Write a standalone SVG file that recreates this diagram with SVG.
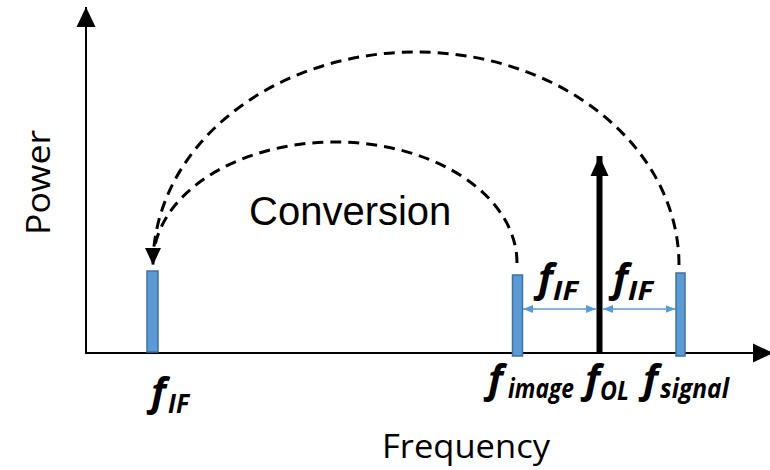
<svg xmlns="http://www.w3.org/2000/svg" width="770" height="470" viewBox="0 0 770 470">
  <style>
    .axis { stroke: #000; stroke-width: 2; fill: none; }
    .bar { fill: #5B9BD5; stroke: #41719C; stroke-width: 1.5; }
    .arc { stroke: #000; stroke-width: 3; fill: none; stroke-dasharray: 11 7; }
    .span { stroke: #5B9BD5; stroke-width: 1.5; fill: none; }
    .lo { stroke: #000; stroke-width: 6; fill: none; }
    .lbl { font-family: "Open Sans", "Noto Sans", sans-serif; font-weight: bold; font-style: italic; fill: #000; }
    .main { font-size: 40px; }
    .sub { font-size: 26px; }
    .title { font-family: "Open Sans", "Noto Sans", sans-serif; font-size: 33px; fill: #000; }
    .conv { font-family: "Liberation Sans", Arial, sans-serif; font-size: 40px; fill: #000; }
  </style>
  <defs>
    <marker id="axisHead" markerUnits="userSpaceOnUse" markerWidth="20" markerHeight="20" viewBox="0 0 20 20" refX="20" refY="10" orient="auto">
      <path d="M0,0.5 L20,10 L0,19.5 z" fill="#000"/>
    </marker>
    <marker id="loHead" markerUnits="userSpaceOnUse" markerWidth="20" markerHeight="20" viewBox="0 0 20 20" refX="20" refY="10" orient="auto">
      <path d="M0,1 L20,10 L0,19 z" fill="#000"/>
    </marker>
    <marker id="arcHead" markerUnits="userSpaceOnUse" markerWidth="17" markerHeight="17" viewBox="0 0 17 17" refX="17" refY="8.5" orient="auto">
      <path d="M0,0.5 L17,8.5 L0,16.5 z" fill="#000"/>
    </marker>
    <marker id="spanHead" markerUnits="userSpaceOnUse" markerWidth="10" markerHeight="10" viewBox="0 0 10 10" refX="10" refY="5" orient="auto-start-reverse">
      <path d="M0,1 L10,5 L0,9 z" fill="#5B9BD5"/>
    </marker>
  </defs>

  <g id="axes">
    <line class="axis" x1="86" y1="353" x2="86" y2="7" marker-end="url(#axisHead)"/>
    <line class="axis" x1="85" y1="353" x2="773" y2="353" marker-end="url(#axisHead)"/>
    <text class="title" transform="translate(50,235) rotate(-90)" textLength="105" lengthAdjust="spacingAndGlyphs">Power</text>
    <text class="title" x="382" y="458" textLength="168" lengthAdjust="spacingAndGlyphs">Frequency</text>
  </g>

  <g id="connectors">
    <path class="arc" d="M679,265 A263,213 0 0 0 153,265" marker-end="url(#arcHead)"/>
    <path class="arc" d="M517,263 A182,121 0 0 0 153,263"/>
    <line class="span" x1="523" y1="309" x2="596" y2="309" marker-start="url(#spanHead)" marker-end="url(#spanHead)"/>
    <line class="span" x1="603" y1="309" x2="675.5" y2="309" marker-start="url(#spanHead)" marker-end="url(#spanHead)"/>
  </g>

  <g id="bar-if">
    <rect class="bar" x="147" y="271" width="11" height="81"/>
    <text class="lbl"><tspan class="main" x="151" y="406">f</tspan><tspan class="sub" x="168" y="413" textLength="21" lengthAdjust="spacingAndGlyphs">IF</tspan></text>
  </g>

  <g id="bar-image">
    <rect class="bar" x="512.5" y="275" width="10" height="81"/>
    <text class="lbl"><tspan class="main" x="488" y="393">f</tspan><tspan class="sub" x="508" y="398" textLength="66" lengthAdjust="spacingAndGlyphs">image</tspan></text>
  </g>

  <g id="lo">
    <line class="lo" x1="599.5" y1="353" x2="599.5" y2="156" marker-end="url(#loHead)"/>
    <text class="lbl"><tspan class="main" x="585" y="393">f</tspan><tspan class="sub" x="600" y="400" textLength="29" lengthAdjust="spacingAndGlyphs">OL</tspan></text>
  </g>

  <g id="bar-signal">
    <rect class="bar" x="676" y="273" width="9" height="83"/>
    <text class="lbl"><tspan class="main" x="643" y="393">f</tspan><tspan class="sub" x="660" y="398" textLength="69" lengthAdjust="spacingAndGlyphs">signal</tspan></text>
  </g>

  <g id="span-labels">
    <text class="lbl"><tspan class="main" x="538" y="292">f</tspan><tspan class="sub" x="553" y="300" textLength="25" lengthAdjust="spacingAndGlyphs">IF</tspan></text>
    <text class="lbl"><tspan class="main" x="613" y="292">f</tspan><tspan class="sub" x="628" y="300" textLength="25" lengthAdjust="spacingAndGlyphs">IF</tspan></text>
  </g>

  <g id="conversion">
    <text class="conv" x="249" y="225">Conversion</text>
  </g>
</svg>
